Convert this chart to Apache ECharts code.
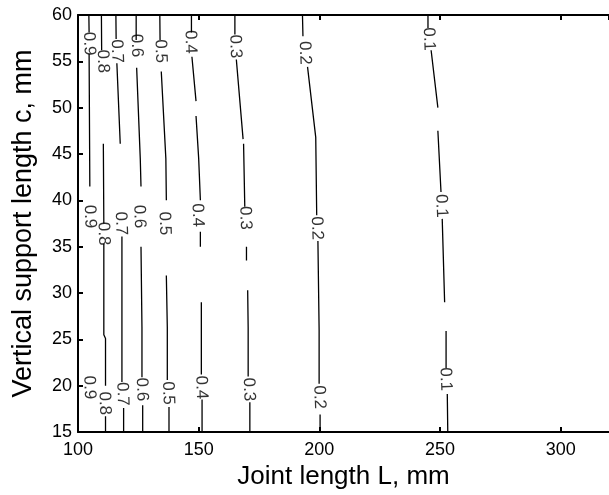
<!DOCTYPE html>
<html>
<head>
<meta charset="utf-8">
<title>Contour</title>
<script src="https://cdn.jsdelivr.net/npm/echarts@6/dist/echarts.min.js"></script>
<style>
    html, body { margin: 0; padding: 0; background: #fff; }
    #chart { width: 609px; height: 495px; }
</style>
</head>
<body>
<div id="chart"></div>
<script>
    // contour levels and their traced paths (null = break in the line)
    var levels = ['0.9', '0.8', '0.7', '0.6', '0.5', '0.4', '0.3', '0.2', '0.1'];

    var path09 = [[104.5, 60], [104.6, 58.1], null, [104.6, 55.8], [104.9, 41.5]];
    var path08 = [[109.7, 60], [109.8, 56.2], null, [110.5, 46.1], [110.7, 37.5], null,
        [110.7, 35.3], [110.7, 25.5], [111.4, 25.1], [111.4, 20.0], null, [111.4, 16.7], [111.4, 15]];
    var path07 = [[115.7, 60], [115.8, 57.4], null, [116.1, 54.8], [117.5, 46.1], null,
        [118.2, 36.1], [118.2, 20.4], null, [118.9, 17.6], [118.9, 15]];
    var path06 = [[124.1, 60], [124.1, 57.3], null, [124.3, 54.3], [125.8, 44.5], [126.1, 41.5], null,
        [126.1, 35.0], [126.5, 26.3], [126.5, 20.9], null, [126.8, 17.9], [126.8, 15]];
    var path05 = [[133.9, 60], [134.0, 57.3], null, [134.5, 53.9], [136.4, 44.5], [136.6, 40.0], null,
        [136.6, 31.9], [137.0, 26.3], [137.0, 20.6], null, [137.7, 17.7], [137.7, 15]];
    var path04 = [[147.0, 60], [147.0, 58.1], null, [147.2, 55.5], [148.9, 50.7], null,
        [148.9, 49.1], [150.0, 44.5], [150.7, 40.0], null, [150.7, 36.6], [150.7, 35.0], null,
        [151.1, 29.0], [151.1, 21.2], null, [151.4, 18.5], [151.4, 15]];
    var path03 = [[165.0, 60], [165.0, 57.9], null, [165.6, 55.2], [168.4, 46.6], null,
        [168.6, 46.1], [169.1, 39.3], null, [169.8, 35.0], [169.8, 33.5], null,
        [170.3, 30.3], [170.5, 26.3], [170.5, 21.0], null, [171.2, 18.2], [171.2, 15]];
    var path02 = [[193.0, 60], [193.2, 57.7], null, [195.1, 54.4], [198.5, 46.8], [198.9, 38.4], null,
        [199.4, 35.6], [199.9, 26.0], [199.9, 20.2], null, [200.3, 16.9], [200.3, 15]];
    var path01 = [[245.0, 60], [245.0, 58.6], null, [246.3, 56.2], [249.1, 50.0], null,
        [249.1, 47.5], [250.4, 40.9], null, [250.9, 38.0], [251.9, 29.0], null,
        [252.5, 25.9], [252.5, 21.9], null, [253.0, 19.1], [253.2, 15]];
    var paths = [path09, path08, path07, path06, path05, path04, path03, path02, path01];

    // where the inline labels sit on each contour
    var labels09 = [[104.6, 56.9], [104.9, 38.25], [104.7, 19.8]];
    var labels08 = [[110.3, 55.0], [110.6, 36.4], [111.0, 18.1]];
    var labels07 = [[116.1, 56.1], [117.8, 37.5], [118.4, 19.1]];
    var labels06 = [[124.3, 56.7], [125.4, 38.25], [126.5, 19.6]];
    var labels05 = [[134.2, 56.1], [135.9, 37.5], [137.3, 19.2]];
    var labels04 = [[146.6, 57.1], [149.6, 38.4], [151.1, 19.8]];
    var labels03 = [[165.2, 56.6], [169.3, 38.1], [170.8, 19.6]];
    var labels02 = [[194.0, 55.9], [199.0, 37.0], [200.0, 18.75]];
    var labels01 = [[245.4, 57.4], [250.5, 39.4], [252.3, 20.7]];
    var labelPos = [labels09, labels08, labels07, labels06, labels05, labels04, labels03, labels02, labels01];

    var xTicks = [100, 150, 200, 250, 300];
    var yTicks = [15, 20, 25, 30, 35, 40, 45, 50, 55, 60];

    var font = 'Liberation Sans, Arial, Helvetica, sans-serif';

    var series = [];
    for (var i = 0; i < levels.length; i++) {
        series.push({
            name: levels[i],
            type: 'line',
            data: paths[i].map(function (p) { return p ? p : ['-', '-']; }),
            showSymbol: false,
            symbol: 'none',
            connectNulls: false,
            silent: true,
            lineStyle: { color: '#000', width: 1.3 },
            z: 3
        });
        series.push({
            name: levels[i] + ' label',
            type: 'scatter',
            data: labelPos[i],
            symbolSize: 1,
            itemStyle: { color: 'rgba(0,0,0,0)' },
            silent: true,
            label: {
                show: true,
                position: 'inside',
                formatter: levels[i],
                rotate: -88,
                color: '#000',
                fontSize: 17,
                fontFamily: font
            },
            z: 4
        });
    }

    var axisLine = { show: true, onZero: false, lineStyle: { color: '#000', width: 2 } };
    var axisTick = { show: true, inside: true, length: 5, lineStyle: { color: '#000', width: 2 } };

    var chart = echarts.init(document.getElementById('chart'), null, { renderer: 'canvas' });
    chart.setOption({
        animation: false,
        backgroundColor: '#fff',
        grid: { left: 78, top: 15, right: -6, bottom: 60 },
        xAxis: [{
            type: 'value',
            position: 'bottom',
            min: xTicks[0],
            max: 320,
            interval: 50,
            name: 'Joint length L, mm',
            nameLocation: 'middle',
            nameGap: 32,
            nameTextStyle: { color: '#000', fontSize: 26, fontFamily: font },
            axisLine: axisLine,
            axisTick: axisTick,
            splitLine: { show: false },
            axisLabel: { color: '#000', fontSize: 18, fontFamily: font, margin: 9, showMaxLabel: false }
        }, {
            type: 'value',
            position: 'top',
            min: xTicks[0],
            max: 320,
            interval: 50,
            axisLine: axisLine,
            axisTick: axisTick,
            splitLine: { show: false },
            axisLabel: { show: false }
        }],
        yAxis: [{
            type: 'value',
            min: yTicks[0],
            max: yTicks[yTicks.length - 1],
            interval: 5,
            name: 'Vertical support length c, mm',
            nameLocation: 'middle',
            nameGap: 41,
            nameTextStyle: { color: '#000', fontSize: 27, fontFamily: font },
            axisLine: axisLine,
            axisTick: axisTick,
            splitLine: { show: false },
            axisLabel: { color: '#000', fontSize: 18, fontFamily: font, margin: 6 }
        }],
        series: series
    });
</script>
</body>
</html>
